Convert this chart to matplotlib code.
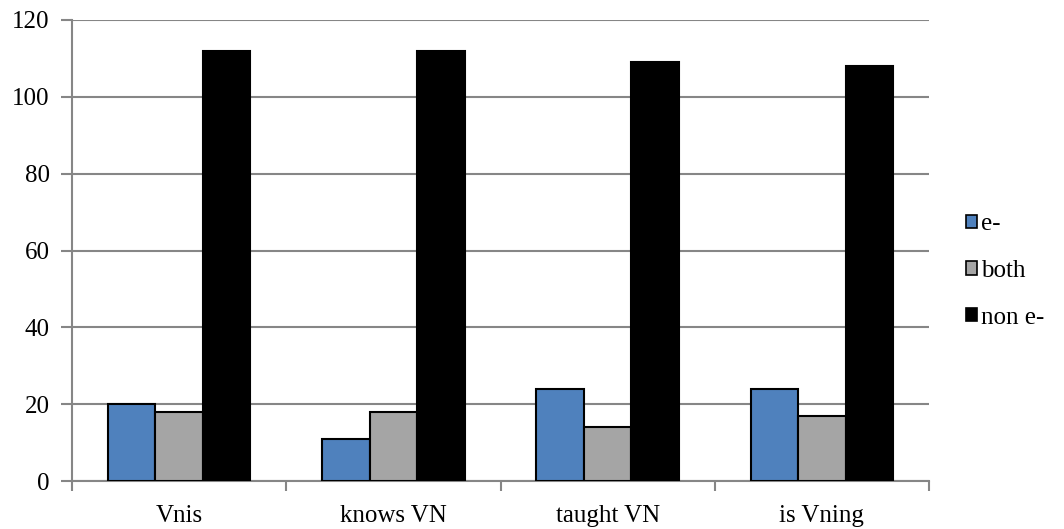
import matplotlib
matplotlib.use("Agg")
import matplotlib.pyplot as plt
import numpy as np
from matplotlib.patches import Patch

categories = ["Vnis", "knows VN", "taught VN", "is Vning"]
series_names = ["e-", "both", "non e-"]
e_vals = [20, 11, 24, 24]
both_vals = [18, 18, 14, 17]
non_e_vals = [112, 112, 109, 108]
colors = ["#4f81bd", "#a5a5a5", "#000000"]
y_ticks = [0, 20, 40, 60, 80, 100, 120]

plt.rcParams["font.family"] = ["Liberation Serif", "DejaVu Serif"]

fig = plt.figure(figsize=(10.64, 5.29), dpi=100)
ax = fig.add_axes([72 / 1064, 1 - 481 / 529, (929 - 72) / 1064, (481 - 20) / 529])

x = np.arange(len(categories))
bw = 0.222
grid_c = "#868686"
for i, (vals, c, name) in enumerate(zip([e_vals, both_vals, non_e_vals], colors, series_names)):
    ax.bar(x + (i - 1) * bw, vals, width=bw, color=c, edgecolor="black",
           linewidth=1.5, label=name, zorder=3)

ax.set_xlim(-0.5, len(categories) - 0.5)
ax.set_ylim(0, 120)
ax.set_yticks(y_ticks)
ax.set_yticklabels([str(v) for v in y_ticks], fontsize=18)
ax.yaxis.grid(True, color=grid_c, linewidth=1.5, zorder=0)
ax.set_axisbelow(True)

ax.set_xticks(x)
ax.set_xticklabels(categories, fontsize=18)
ax.set_xticks(np.arange(len(categories) + 1) - 0.5, minor=True)
ax.tick_params(axis="x", which="major", length=0, pad=17)
ax.tick_params(axis="x", which="minor", length=7, width=1.5, color=grid_c)
ax.tick_params(axis="y", length=8, width=1.5, color=grid_c, pad=8)

for side in ["top", "right"]:
    ax.spines[side].set_visible(False)
for side in ["left", "bottom"]:
    ax.spines[side].set_color(grid_c)
    ax.spines[side].set_linewidth(1.5)

handles = [Patch(facecolor=c, edgecolor="black", linewidth=1.2) for c in colors]
fig.legend(handles, series_names, loc="center left", bbox_to_anchor=(966 / 1064, 1 - 271 / 529),
           frameon=False, fontsize=18, handlelength=0.45, handleheight=0.45,
           handletextpad=0.15, labelspacing=0.98, borderaxespad=0, borderpad=0)

fig.savefig("out.png", dpi=100)
